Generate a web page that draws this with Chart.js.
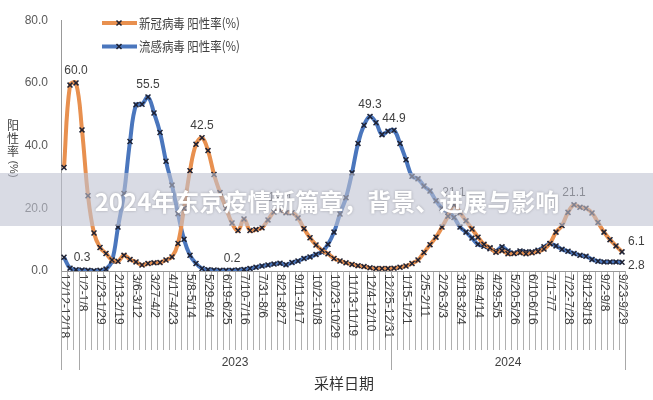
<!DOCTYPE html>
<html>
<head>
<meta charset="utf-8">
<script src="https://cdn.jsdelivr.net/npm/chart.js@4.4.0/dist/chart.umd.min.js"></script>
<style>
  html, body { margin: 0; padding: 0; background: #fff; }
</style>
</head>
<body>
<canvas id="chart" width="653" height="400"></canvas>
<script>
// weekly sampling periods, 2022-12-12 .. 2024-09-29
const weeks = [
  "12/12-12/18", "12/19-12/25", "12/26-1/1",
  "1/2-1/8", "1/9-1/15", "1/16-1/22", "1/23-1/29", "1/30-2/5", "2/6-2/12", "2/13-2/19",
  "2/20-2/26", "2/27-3/5", "3/6-3/12", "3/13-3/19", "3/20-3/26", "3/27-4/2", "4/3-4/9",
  "4/10-4/16", "4/17-4/23", "4/24-4/30", "5/1-5/7", "5/8-5/14", "5/15-5/21", "5/22-5/28",
  "5/29-6/4", "6/5-6/11", "6/12-6/18", "6/19-6/25", "6/26-7/2", "7/3-7/9", "7/10-7/16",
  "7/17-7/23", "7/24-7/30", "7/31-8/6", "8/7-8/13", "8/14-8/20", "8/21-8/27", "8/28-9/3",
  "9/4-9/10", "9/11-9/17", "9/18-9/24", "9/25-10/1", "10/2-10/8", "10/9-10/15",
  "10/16-10/22", "10/23-10/29", "10/30-11/5", "11/6-11/12", "11/13-11/19", "11/20-11/26",
  "11/27-12/3", "12/4-12/10", "12/11-12/17", "12/18-12/24", "12/25-12/31",
  "1/1-1/7", "1/8-1/14", "1/15-1/21", "1/22-1/28", "1/29-2/4", "2/5-2/11", "2/12-2/18",
  "2/19-2/25", "2/26-3/3", "3/4-3/10", "3/11-3/17", "3/18-3/24", "3/25-3/31", "4/1-4/7",
  "4/8-4/14", "4/15-4/21", "4/22-4/28", "4/29-5/5", "5/6-5/12", "5/13-5/19", "5/20-5/26",
  "5/27-6/2", "6/3-6/9", "6/10-6/16", "6/17-6/23", "6/24-6/30", "7/1-7/7", "7/8-7/14",
  "7/15-7/21", "7/22-7/28", "7/29-8/4", "8/5-8/11", "8/12-8/18", "8/19-8/25", "8/26-9/1",
  "9/2-9/8", "9/9-9/15", "9/16-9/22", "9/23-9/29"
];

// 新冠病毒 阳性率(%)
const covid = [
  33.0, 59.3, 60.0, 45.0, 24.0, 12.1, 7.5, 5.6, 3.5, 3.1,
  5.0, 3.7, 2.9, 1.9, 2.4, 2.6, 2.7, 3.5, 4.5, 8.8,
  20.0, 32.0, 40.4, 42.5, 38.4, 30.8, 25.0, 20.0, 15.3, 12.9,
  16.6, 12.9, 13.2, 13.8, 16.3, 18.8, 19.4, 18.6, 18.6, 16.9,
  13.5, 10.6, 8.3, 6.6, 5.5, 4.0, 3.2, 2.6, 2.1, 1.7,
  1.4, 1.0, 0.8, 0.8, 0.8, 0.9, 1.2, 1.6, 2.4, 3.5,
  5.9, 8.4, 10.8, 14.0, 17.5, 21.1, 18.6, 16.0, 13.4, 10.8,
  8.5, 7.4, 6.0, 6.5, 5.5, 5.6, 5.8, 5.5, 5.8, 6.2,
  7.0, 8.8, 12.4, 14.5, 18.7, 21.1, 20.3, 20.0, 18.5, 15.5,
  12.4, 10.0, 8.0, 6.1
];

// 流感病毒 阳性率(%)
const flu = [
  4.4, 0.9, 0.4, 0.3, 0.2, 0.1, 0.2, 0.6, 3.2, 14.0,
  24.7, 41.3, 53.0, 53.2, 55.5, 50.4, 44.2, 35.0, 27.4, 18.3,
  10.1, 5.0, 2.4, 0.8, 0.4, 0.3, 0.2, 0.2, 0.2, 0.3,
  0.5, 0.8, 1.2, 1.6, 1.9, 2.2, 2.5, 2.0, 2.7, 3.2,
  4.0, 4.5, 5.3, 6.1, 8.5, 12.4, 18.2, 23.4, 31.3, 40.7,
  46.5, 49.3, 47.3, 43.5, 44.6, 44.9, 40.7, 35.5, 30.2, 29.4,
  27.1, 25.5, 22.4, 20.0, 18.7, 17.1, 14.0, 12.4, 10.5, 8.5,
  7.9, 7.1, 6.4, 7.7, 6.4, 5.7, 6.4, 6.1, 6.1, 6.6,
  7.7, 8.7, 8.0, 6.9, 6.3, 5.6, 5.0, 4.7, 3.7, 3.1,
  2.9, 2.9, 2.9, 2.8
];

const seriesNames = ["新冠病毒 阳性率(%)", "流感病毒 阳性率(%)"];
const covidLabelAt = [2, 23, 36, 65, 85];
const fluLabelAt = [3, 14, 28, 51, 55];
const tickEvery = 3;
// year groups: [name, first week index, last week index]
const years = [["2023", 3, 54], ["2024", 55, 93]];
const yTitle = ["阳", "性", "率"];
const xTitle = "采样日期";
const overlayTitle = "2024年东京疫情新篇章，背景、进展与影响";

const ORANGE = "#E8904F";
const BLUE = "#4A76BD";
const MARK = "#1f2233";
const LATIN = '"Liberation Sans", Arial, sans-serif';
const CJK = '"Noto Sans CJK SC", sans-serif';

const decor = {
  id: "decor",
  afterDatasetsDraw(chart) {
    const { ctx, chartArea, scales } = chart;
    const x = scales.x;
    ctx.save();

    // week tick labels, reading downwards
    ctx.fillStyle = "#404040";
    ctx.font = "12px " + LATIN;
    ctx.textAlign = "left";
    ctx.textBaseline = "middle";
    weeks.forEach((w, i) => {
      if (i % tickEvery) return;
      ctx.save();
      ctx.translate(x.getPixelForValue(i), chartArea.bottom + 3);
      ctx.rotate(Math.PI / 2);
      ctx.fillText(w, 0, 0);
      ctx.restore();
    });

    // long dividers between year groups
    const half = (x.getPixelForValue(1) - x.getPixelForValue(0)) / 2;
    const edges = [0, weeks.length];
    years.forEach((g) => edges.push(g[1]));
    ctx.strokeStyle = "#a8a8a8";
    ctx.lineWidth = 1;
    edges.forEach((e) => {
      const px = Math.round(x.getPixelForValue(0) - half + e * half * 2) + 0.5;
      ctx.beginPath();
      ctx.moveTo(px, chartArea.bottom);
      ctx.lineTo(px, chartArea.bottom + 99);
      ctx.stroke();
    });

    // year names
    ctx.fillStyle = "#404040";
    ctx.font = "12px " + LATIN;
    ctx.textAlign = "center";
    years.forEach((g) => {
      const mid = (x.getPixelForValue(g[1]) + x.getPixelForValue(g[2])) / 2;
      ctx.fillText(g[0], mid, chartArea.bottom + 92);
    });

    // x title
    ctx.font = "15px " + CJK;
    ctx.fillStyle = "#333";
    ctx.fillText(xTitle, (chartArea.left + chartArea.right) / 2 + 1, 383);

    // y title, stacked characters
    ctx.font = "12px " + CJK;
    ctx.fillStyle = "#404040";
    yTitle.forEach((c, k) => ctx.fillText(c, 13, 125 + k * 13));
    ctx.save();
    ctx.translate(13, 169);
    ctx.rotate(Math.PI / 2);
    ctx.font = "11px " + LATIN;
    ctx.fillText("(%)", 0, 0);
    ctx.restore();

    // data labels
    ctx.font = "12px " + LATIN;
    ctx.fillStyle = "#404040";
    ctx.textAlign = "center";
    const m0 = chart.getDatasetMeta(0).data;
    const m1 = chart.getDatasetMeta(1).data;
    covidLabelAt.forEach((i) => ctx.fillText(covid[i].toFixed(1), m0[i].x, m0[i].y - 12));
    fluLabelAt.forEach((i) => ctx.fillText(flu[i].toFixed(1), m1[i].x, m1[i].y - 12));
    const last = weeks.length - 1;
    ctx.textAlign = "left";
    ctx.fillText(covid[last].toFixed(1), m0[last].x + 6, m0[last].y - 10);
    ctx.fillText(flu[last].toFixed(1), m1[last].x + 6, m1[last].y + 3);

    // legend
    [ORANGE, BLUE].forEach((col, k) => {
      const ly = 23 + k * 23.5;
      ctx.strokeStyle = col;
      ctx.lineWidth = 4;
      ctx.beginPath();
      ctx.moveTo(102, ly);
      ctx.lineTo(137, ly);
      ctx.stroke();
      ctx.strokeStyle = MARK;
      ctx.lineWidth = 1.5;
      ctx.beginPath();
      ctx.moveTo(116.5, ly - 2.5); ctx.lineTo(121.5, ly + 2.5);
      ctx.moveTo(121.5, ly - 2.5); ctx.lineTo(116.5, ly + 2.5);
      ctx.stroke();
      ctx.save();
      ctx.translate(139, ly);
      ctx.scale(0.88, 1);
      ctx.font = "13px " + CJK;
      ctx.fillStyle = "#404040";
      ctx.textBaseline = "middle";
      ctx.fillText(seriesNames[k], 0, 0);
      ctx.restore();
    });

    ctx.restore();
  },
  afterDraw(chart) {
    const { ctx, width } = chart;
    ctx.save();
    ctx.fillStyle = "rgba(192, 195, 210, 0.6)";
    ctx.fillRect(0, 173, width, 53);
    ctx.font = "bold 24px " + CJK;
    ctx.fillStyle = "#ffffff";
    ctx.textAlign = "center";
    ctx.textBaseline = "middle";
    ctx.shadowColor = "rgba(0,0,0,0.25)";
    ctx.shadowBlur = 3;
    ctx.fillText(overlayTitle, 327, 202);
    ctx.restore();
  },
};

const lineSet = (label, data, color) => ({
  label: label,
  data: data,
  borderColor: color,
  backgroundColor: color,
  borderWidth: 4,
  tension: 0.4,
  fill: false,
  pointStyle: "crossRot",
  pointRadius: 3.5,
  pointBorderWidth: 1.5,
  pointBorderColor: MARK,
  pointBackgroundColor: MARK,
});

new Chart(document.getElementById("chart").getContext("2d"), {
  type: "line",
  data: {
    labels: weeks,
    datasets: [lineSet(seriesNames[0], covid, ORANGE), lineSet(seriesNames[1], flu, BLUE)],
  },
  options: {
    responsive: false,
    animation: false,
    devicePixelRatio: 1,
    layout: { padding: { left: 0, right: 28, top: 17, bottom: 0 } },
    plugins: { legend: { display: false }, tooltip: { enabled: false } },
    scales: {
      x: {
        offset: true,
        ticks: { display: false },
        grid: { offset: true, drawOnChartArea: false, tickLength: 79, color: "#b0b0b0" },
        border: { color: "#999" },
        afterFit: (s) => { s.height = 129; },
      },
      y: {
        min: 0,
        max: 80,
        ticks: {
          stepSize: 20,
          padding: 13,
          color: "#595959",
          font: { size: 12, family: LATIN },
          callback: (v) => v.toFixed(1),
        },
        grid: { drawOnChartArea: false, drawTicks: false },
        border: { color: "#999" },
        afterFit: (s) => { s.width = 61; },
      },
    },
  },
  plugins: [decor],
});
</script>
</body>
</html>
